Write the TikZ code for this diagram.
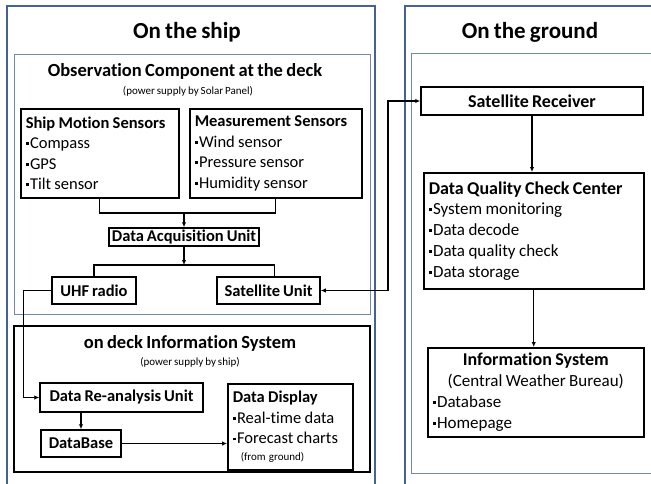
\documentclass[tikz,border=0pt]{standalone}
\usepackage{fontspec}
\setmainfont[Ligatures=NoCommon, WordSpace=0.8]{Carlito}
\usetikzlibrary{arrows.meta,positioning,calc}
\definecolor{frameblue}{RGB}{68,98,148}
\definecolor{panelblue}{RGB}{112,136,172}
\newcommand{\bul}{\raisebox{0.45ex}{\rule{2.8pt}{2.8pt}}\hspace{1.5pt}}
\newcommand{\tightwords}{\spaceskip=0.2em\relax}

\begin{document}
\begin{tikzpicture}[x=1pt, y=-1pt,
  box/.style={draw, line width=1.5pt, fill=white, inner xsep=5pt, inner ysep=1pt,
    font=\fontsize{16.5}{20.5}\selectfont},
  listbox/.style={box, anchor=north west, align=left, execute at begin node=\tightwords},
  groundbox/.style={listbox, font=\fontsize{17}{20.8}\selectfont},
  head/.style={font=\bfseries\fontsize{18.5}{20}\selectfont},
  note/.style={font=\fontsize{11}{13}\selectfont},
  maintitle/.style={font=\bfseries\fontsize{23}{26}\selectfont},
  wire/.style={line width=1.4pt},
  link/.style={line width=1.4pt, -{Latex[length=5pt,width=4.5pt]}},
  thinlink/.style={line width=0.8pt, -{Latex[length=5pt,width=4.5pt]}},
  duplex/.style={line width=1.6pt, {Latex[length=5pt,width=4.5pt]}-{Latex[length=5pt,width=4.5pt]}}]
  \useasboundingbox (0,0) rectangle (651,483);
  \clip (0,0) rectangle (651,483);
  % Frames
  \draw[frameblue, line width=2.2pt] (7,6) rectangle (375,520);
  \draw[frameblue, line width=2.2pt] (405,6) rectangle (680,520);
  \draw[panelblue, line width=1pt] (14,54) rectangle (370,314);
  \draw[line width=1.4pt] (14,326) rectangle (370,472);
  \draw[panelblue, line width=1pt] (411,53) rectangle (680,473);
  % Titles
  \node[maintitle] (shiptitle) at (187,32) {On the ship};
  \node[maintitle] (groundtitle) at (530,32) {On the ground};
  \node[head] (obshead) at (185,71) {Observation Component at the deck};
  \node[note] (obsnote) at (188,91) {(power supply by Solar Panel)};
  \node[head] (deckhead) at (190,343) {on deck Information System};
  \node[note] (decknote) at (190,362) {(power supply by ship)};
  % Observation component
  \node[listbox, text width=148pt, minimum height=89pt] (ship) at (20,108)
    {\textbf{Ship Motion Sensors}\\\bul Compass\\\bul GPS\\\bul Tilt sensor};
  \node[listbox, text width=162pt, minimum height=89pt] (meas) at (189,108)
    {\textbf{Measurement Sensors}\\\bul Wind sensor\\\bul Pressure sensor\\\bul Humidity sensor};
  \node[box, minimum width=150pt, minimum height=18pt, inner xsep=2pt] (dau) at (184,237)
    {\textbf{Data Acquisition Unit}};
  \node[box, minimum width=84pt, minimum height=27pt] (uhf) at (94,290.5) {\textbf{UHF radio}};
  \node[box, minimum width=103pt, minimum height=27pt] (sat) at (268.5,290.5) {\textbf{Satellite Unit}};
  % On deck information system
  \node[box, minimum width=163pt, minimum height=29pt] (rean) at (121.5,397.5) {\textbf{Data Re-analysis Unit}};
  \node[box, minimum width=80pt, minimum height=27pt] (db) at (81,443.5) {\textbf{DataBase}};
  \node[listbox, text width=115pt, minimum height=86pt] (disp) at (227,383)
    {\textbf{Data Display}\\\bul Real-time data\\\bul Forecast charts\\[-4pt]
     {\fontsize{11}{13}\selectfont\hspace*{8pt}(from ground)}};
  % Ground
  \node[box, minimum width=222pt, minimum height=28pt, font=\bfseries\fontsize{18}{21}\selectfont]
    (recv) at (532,101) {Satellite Receiver};
  \node[groundbox, text width=210pt, minimum height=116pt] (dqcc) at (423,172)
    {{\bfseries\fontsize{18}{20.8}\selectfont Data Quality Check Center}\\\bul System monitoring\\\bul Data decode\\
     \bul Data quality check\\\bul Data storage};
  \node[groundbox, text width=206pt, minimum height=89pt] (info) at (427,347)
    {{\centering{\bfseries\fontsize{18}{20.8}\selectfont Information System}\\(Central Weather Bureau)\par}
     \bul Database\\\bul Homepage};
  % Connectors
  \coordinate (sensbus) at (184,213);
  \draw[wire] (ship.south) |- (sensbus) -| (meas.south);
  \draw[link] (sensbus) -- (dau.north);
  \coordinate (radiobus) at (184,265);
  \draw[link] (dau.south) -- (radiobus);
  \draw[wire] (uhf.north) |- (radiobus) -| ([xshift=6pt]sat.north);
  \coordinate (relay) at (388,101);
  \draw[duplex] (sat.east) -| (relay) -- (recv.west);
  \draw[link] (recv.south) -- (recv.south |- dqcc.north);
  \draw[link] (dqcc.south) -- (dqcc.south |- info.north);
  \draw[thinlink] (uhf.west) -- ++(-28,0) |- (rean.west);
  \draw[link] (db.north |- rean.south) -- (db.north);
  \draw[thinlink] (db.east) -- (db.east -| disp.west);
\end{tikzpicture}
\end{document}
